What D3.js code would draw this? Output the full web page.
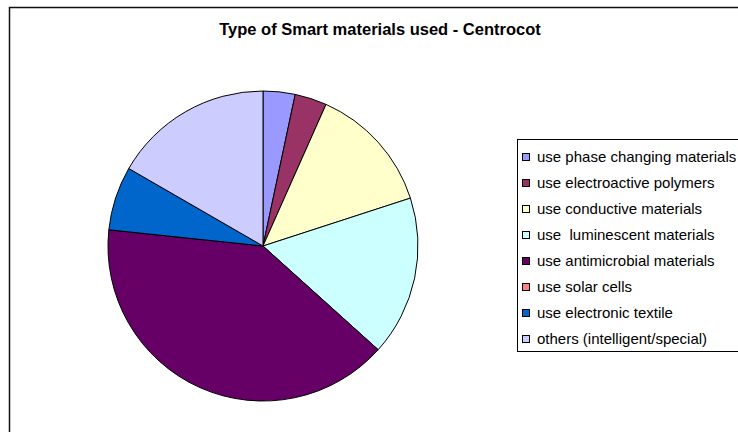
<!DOCTYPE html>
<html>
<head>
<meta charset="utf-8">
<script src="https://cdn.jsdelivr.net/npm/d3@7"></script>
<style>
  html, body { margin: 0; padding: 0; background: #fff; }
  svg { display: block; }
</style>
</head>
<body>
<svg id="chart" width="738" height="432"></svg>
<script>
const title = "Type of Smart materials used - Centrocot";
const categories = [
  "use phase changing materials",
  "use electroactive polymers",
  "use conductive materials",
  "use  luminescent materials",
  "use antimicrobial materials",
  "use solar cells",
  "use electronic textile",
  "others (intelligent/special)"
];
const values = [1, 1, 4, 5, 12, 0, 2, 5];
const colors = ["#9999FF", "#993366", "#FFFFCC", "#CCFFFF", "#660066", "#FF8080", "#0066CC", "#CCCCFF"];

const svg = d3.select("#chart");
const font = "'Liberation Sans', Arial, sans-serif";

// outer chart area border
svg.append("rect")
  .attr("x", 9.5).attr("y", 7.5)
  .attr("width", 800).attr("height", 500)
  .attr("fill", "#fff")
  .attr("stroke", "#111").attr("stroke-width", 1.5);

svg.append("text")
  .attr("x", 380).attr("y", 35)
  .attr("text-anchor", "middle")
  .attr("font-family", font)
  .attr("font-weight", "bold")
  .attr("font-size", 16.5)
  .attr("fill", "#000")
  .text(title);

const data = categories.map((c, i) => ({ name: c, value: values[i], color: colors[i] }));
const pie = d3.pie().value(d => d.value).sort(null);
const radius = 155;
const arc = d3.arc().innerRadius(0).outerRadius(radius);

const g = svg.append("g").attr("transform", "translate(263,246)");
g.selectAll("path")
  .data(pie(data).filter(d => d.data.value > 0))
  .join("path")
  .attr("d", arc)
  .attr("fill", d => d.data.color)
  .attr("stroke", "#000")
  .attr("stroke-width", 1)
  .attr("stroke-linejoin", "round");

// legend
const lg = svg.append("g");
lg.append("rect")
  .attr("x", 517.5).attr("y", 139.5)
  .attr("width", 260).attr("height", 212)
  .attr("fill", "#fff")
  .attr("stroke", "#000").attr("stroke-width", 1);

const rowY = d3.scalePoint().domain(categories).range([157, 339]);
const items = lg.selectAll("g.item").data(data).join("g").attr("class", "item")
  .attr("transform", d => `translate(0,${rowY(d.name)})`);
items.append("rect")
  .attr("x", 522.5).attr("y", -3.5)
  .attr("width", 7).attr("height", 7)
  .attr("fill", d => d.color)
  .attr("stroke", "#000").attr("stroke-width", 1);
items.append("text")
  .attr("x", 537).attr("y", 0)
  .attr("dy", "0.35em")
  .attr("font-family", font)
  .attr("font-size", 15)
  .attr("fill", "#000")
  .style("white-space", "pre")
  .text(d => d.name);
</script>
</body>
</html>
